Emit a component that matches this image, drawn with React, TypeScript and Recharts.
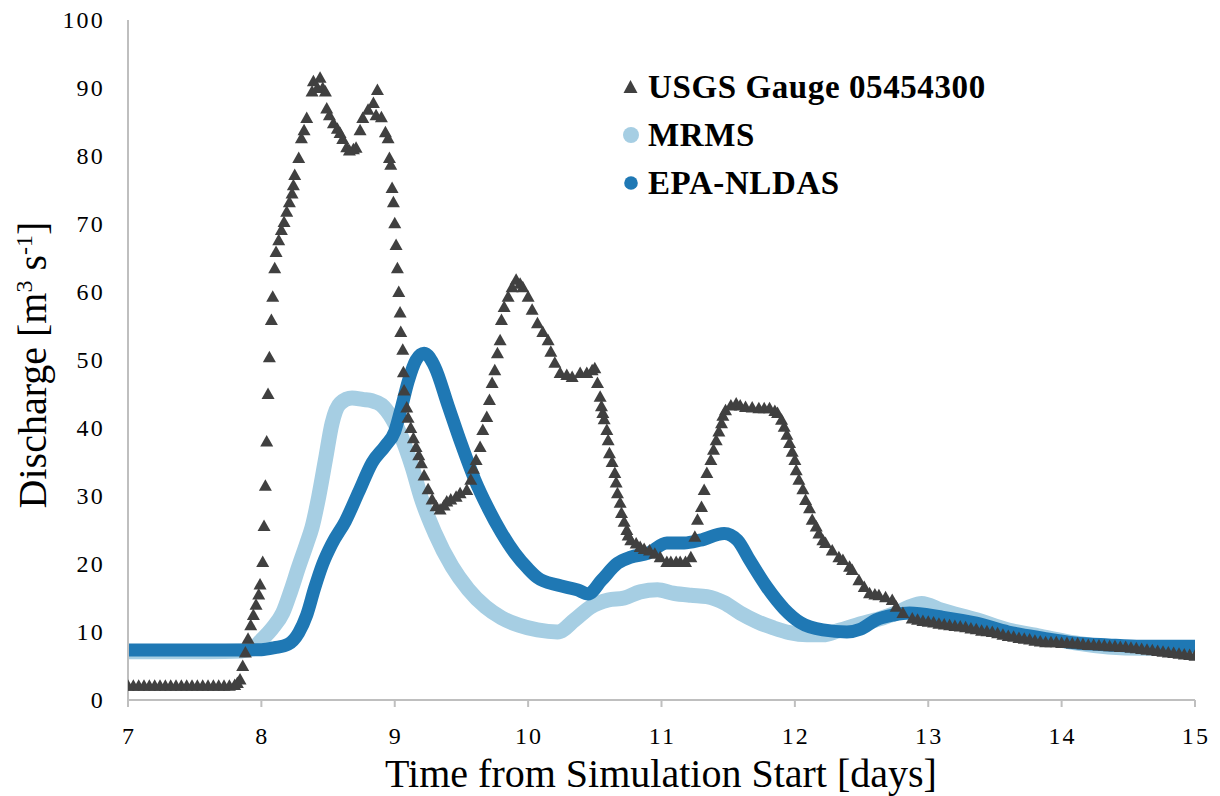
import { ComposedChart, Scatter, Line, XAxis, YAxis, Label } from 'recharts'

const GAUGE_COLOR = '#404040'
const MRMS_COLOR = '#A6CEE3'
const EPA_COLOR = '#1F78B4'
const AXIS_COLOR = '#BFBFBF'
const FONT = '"Liberation Serif", "Times New Roman", serif'

const xTicks = [7, 8, 9, 10, 11, 12, 13, 14, 15]
const yTicks = [0, 10, 20, 30, 40, 50, 60, 70, 80, 90, 100]

const seriesNames = ['USGS Gauge 05454300', 'MRMS', 'EPA-NLDAS']

// observed gauge discharge [day, m3/s]
const gaugeReadings: [number, number][] = [
  [7.0, 2.1], [7.04, 2.1], [7.08, 2.1], [7.12, 2.1], [7.16, 2.1], [7.2, 2.1], [7.24, 2.1],
  [7.28, 2.1], [7.32, 2.1], [7.36, 2.1], [7.4, 2.1], [7.44, 2.1], [7.48, 2.1], [7.52, 2.1],
  [7.56, 2.1], [7.6, 2.1], [7.64, 2.1], [7.68, 2.1], [7.72, 2.1], [7.76, 2.1], [7.8, 2.2],
  [7.82, 2.5], [7.84, 3], [7.86, 5], [7.88, 7], [7.9, 9], [7.92, 11], [7.94, 12.5],
  [7.96, 14], [7.98, 15.5], [7.99, 17], [8.01, 20.3], [8.02, 25.6], [8.03, 31.5], [8.04, 38],
  [8.05, 45], [8.06, 50.4], [8.075, 55.9], [8.085, 59.3], [8.1, 63.5], [8.11, 65.9],
  [8.13, 67.6], [8.15, 69.1], [8.17, 70.3], [8.19, 71.8], [8.21, 73.2], [8.23, 74.5],
  [8.24, 75.7], [8.25, 77.2], [8.28, 79.7], [8.3, 82.6], [8.32, 83.8], [8.34, 85.6],
  [8.38, 89.5], [8.39, 91], [8.42, 90], [8.44, 91.5], [8.46, 90], [8.48, 89.5], [8.49, 87],
  [8.51, 86], [8.54, 84.8], [8.57, 84], [8.59, 83.4], [8.61, 82.5], [8.64, 81.3],
  [8.66, 80.8], [8.69, 81], [8.71, 81.2], [8.74, 83.8], [8.76, 85.6], [8.8, 86.8],
  [8.84, 87.8], [8.86, 86], [8.87, 89.7], [8.9, 85.7], [8.93, 83.5], [8.95, 82.6],
  [8.96, 79.7], [8.97, 78.7], [8.98, 75.3], [8.99, 73.2], [9.0, 70.1], [9.01, 66.9],
  [9.02, 63.5], [9.03, 60], [9.04, 57], [9.045, 54.1], [9.06, 51.5], [9.065, 48.2],
  [9.07, 45.5], [9.09, 43], [9.1, 41.5], [9.12, 40], [9.14, 38.5], [9.16, 37.2],
  [9.18, 36], [9.2, 34.8], [9.22, 33], [9.25, 31], [9.28, 29.5], [9.31, 28.5], [9.34, 28],
  [9.37, 28.6], [9.39, 29.2], [9.42, 29.5], [9.46, 29.9], [9.49, 30.4], [9.54, 30.9],
  [9.57, 32.4], [9.59, 34], [9.61, 35.3], [9.64, 37.2], [9.66, 39.7], [9.69, 41.6],
  [9.71, 44.1], [9.73, 46.6], [9.75, 48.5], [9.77, 51], [9.79, 52.9], [9.8, 55.9],
  [9.82, 57.8], [9.85, 59.3], [9.88, 60.7], [9.91, 61.8], [9.94, 61.2], [9.96, 60.7],
  [10.0, 59.3], [10.03, 57.4], [10.07, 55.4], [10.11, 54.1], [10.15, 52.9], [10.17, 51.2],
  [10.2, 49.6], [10.24, 48.1], [10.29, 47.8], [10.33, 47.5], [10.39, 48.1], [10.44, 48.1],
  [10.48, 48.5], [10.5, 48.8], [10.52, 46.6], [10.54, 44.6], [10.55, 43.2], [10.56, 42.2],
  [10.57, 41.3], [10.59, 39.7], [10.6, 38.2], [10.61, 36.3], [10.63, 35], [10.65, 33.4],
  [10.66, 32], [10.67, 30.4], [10.69, 29], [10.7, 27.5], [10.72, 26.2], [10.74, 25],
  [10.75, 24.2], [10.77, 23.5], [10.81, 23], [10.84, 22.5], [10.87, 22.2], [10.91, 22],
  [10.95, 21.5], [10.99, 21], [11.04, 20.3], [11.07, 20.3], [11.11, 20.3], [11.14, 20.3],
  [11.18, 20.3], [11.22, 21], [11.25, 24], [11.27, 26.5], [11.3, 28.4], [11.32, 30.9],
  [11.34, 33.4], [11.37, 35.3], [11.39, 36.8], [11.41, 38.2], [11.43, 39.5], [11.45, 40.7],
  [11.46, 41.8], [11.48, 42.6], [11.52, 43.3], [11.56, 43.6], [11.59, 43.3], [11.63, 43.1],
  [11.68, 43], [11.73, 42.9], [11.77, 42.9], [11.81, 42.9], [11.85, 42.5], [11.87, 42.2],
  [11.9, 41.2], [11.92, 40.2], [11.94, 39], [11.96, 37.8], [11.98, 36.5], [12.0, 35.3],
  [12.01, 33.8], [12.03, 32.4], [12.06, 31], [12.08, 29.4], [12.11, 28.2], [12.13, 26.5],
  [12.16, 25.5], [12.18, 24.5], [12.21, 23.5], [12.23, 23.1], [12.28, 22], [12.33, 21],
  [12.36, 20.6], [12.41, 19.6], [12.43, 19.1], [12.48, 17.6], [12.52, 16.6], [12.56, 15.7],
  [12.6, 15.5], [12.63, 15.4], [12.68, 15.1], [12.73, 14.7], [12.76, 13.7], [12.81, 12.8],
  [12.88, 12], [12.92, 11.8], [12.96, 11.6], [13.0, 11.5], [13.04, 11.4], [13.08, 11.2],
  [13.12, 11.1], [13.16, 11], [13.2, 10.9], [13.24, 10.8], [13.28, 10.7], [13.32, 10.5],
  [13.36, 10.4], [13.4, 10.2], [13.44, 10.1], [13.48, 10], [13.52, 9.8], [13.56, 9.6],
  [13.6, 9.4], [13.64, 9.3], [13.68, 9.1], [13.72, 9], [13.76, 8.9], [13.8, 8.7],
  [13.84, 8.6], [13.88, 8.5], [13.92, 8.5], [13.96, 8.5], [14.0, 8.4], [14.04, 8.4],
  [14.08, 8.3], [14.12, 8.3], [14.16, 8.2], [14.2, 8.1], [14.24, 8.1], [14.28, 8],
  [14.32, 8], [14.36, 7.9], [14.4, 7.9], [14.44, 7.8], [14.48, 7.8], [14.52, 7.7],
  [14.56, 7.6], [14.6, 7.5], [14.64, 7.4], [14.68, 7.3], [14.72, 7.2], [14.76, 7.1],
  [14.8, 7], [14.84, 6.9], [14.88, 6.8], [14.92, 6.7], [14.96, 6.6], [15.0, 6.5],
]

// simulated discharge, MRMS forcing
const mrmsReadings: [number, number][] = [
  [7.0, 7.1], [7.3, 7.1], [7.6, 7.1], [7.85, 7.2], [7.95, 7.8], [8.0, 8.8], [8.08, 10.5],
  [8.16, 12.8], [8.22, 16], [8.28, 19.6], [8.34, 23], [8.38, 25.4], [8.43, 29.9],
  [8.48, 35.3], [8.53, 40.7], [8.59, 43.6], [8.68, 44.4], [8.76, 44.2], [8.83, 44],
  [8.9, 43.4], [8.98, 41.4], [9.05, 38.7], [9.13, 34.3], [9.2, 29.6], [9.3, 24.6],
  [9.43, 19.6], [9.55, 16.3], [9.68, 13.7], [9.8, 12.1], [9.93, 11], [10.07, 10.3],
  [10.22, 10], [10.35, 11.8], [10.47, 13.7], [10.6, 14.7], [10.72, 15], [10.84, 15.9],
  [10.97, 16.2], [11.09, 15.7], [11.22, 15.4], [11.34, 15.2], [11.47, 14.3], [11.59, 12.8],
  [11.72, 11.5], [11.84, 10.6], [11.96, 9.9], [12.09, 9.6], [12.21, 9.6], [12.34, 10.3],
  [12.46, 11], [12.61, 11.8], [12.76, 12.8], [12.86, 13.7], [12.95, 14.2], [13.1, 13.2],
  [13.36, 11.8], [13.6, 10.3], [13.86, 9.3], [14.1, 8.4], [14.35, 7.8], [14.6, 7.6],
  [15.0, 7.6],
]

// simulated discharge, EPA-NLDAS forcing
const epaReadings: [number, number][] = [
  [7.0, 7.35], [7.4, 7.35], [7.8, 7.35], [8.0, 7.4], [8.1, 7.7], [8.2, 8.2], [8.28, 9.9],
  [8.34, 12.5], [8.4, 16.5], [8.46, 20], [8.53, 23], [8.63, 26.3], [8.73, 30.6],
  [8.83, 34.9], [8.93, 37.4], [9.0, 39.5], [9.05, 43], [9.1, 46.8], [9.16, 50],
  [9.22, 51], [9.3, 49], [9.4, 43.3], [9.5, 37.6], [9.6, 32.4], [9.7, 28.2], [9.8, 24.6],
  [9.9, 21.6], [10.0, 19.3], [10.07, 18], [10.22, 16.9], [10.37, 16.2], [10.45, 15.6],
  [10.55, 17.6], [10.67, 20.1], [10.77, 21], [10.9, 21.6], [11.04, 23.1], [11.17, 23.1],
  [11.29, 23.5], [11.47, 24.5], [11.57, 23.5], [11.66, 20.6], [11.79, 16.6], [11.92, 13.4],
  [12.04, 11.4], [12.21, 10.3], [12.39, 10], [12.49, 10.4], [12.61, 11.8], [12.74, 12.5],
  [12.86, 12.8], [13.1, 12.2], [13.36, 11.3], [13.6, 10], [13.86, 9.1], [14.1, 8.4],
  [14.35, 8.1], [14.6, 7.9], [15.0, 7.9],
]

const gaugeData = gaugeReadings.map(([t, q]) => ({ t, q }))
const mrmsData = mrmsReadings.map(([t, q]) => ({ t, q }))
const epaData = epaReadings.map(([t, q]) => ({ t, q }))

function Triangle(props: any) {
  const { cx, cy } = props
  if (cx == null || cy == null) return null
  return (
    <polygon
      points={`${cx},${cy - 6.5} ${cx + 6.5},${cy + 5} ${cx - 6.5},${cy + 5}`}
      fill={GAUGE_COLOR}
    />
  )
}

// axis line sits at y=700, labels baseline ~744
const renderXTick = (props: any) => (
  <text
    key={`xt-${props.payload.value}`}
    x={props.x + 1}
    y={744}
    textAnchor="middle"
    fontFamily={FONT}
    fontSize={24}
    letterSpacing={2.2}
    fill="#000"
  >
    {props.payload.value}
  </text>
)

const renderYTick = (props: any) => (
  <text
    key={`yt-${props.payload.value}`}
    x={105}
    y={props.y + 8}
    textAnchor="end"
    fontFamily={FONT}
    fontSize={24}
    letterSpacing={2.2}
    fill="#000"
  >
    {props.payload.value}
  </text>
)

function YTitle() {
  return (
    <text
      x={46}
      y={365}
      transform="rotate(-90 46 365)"
      textAnchor="middle"
      fontFamily={FONT}
      fontSize={40}
      fill="#000"
    >
      Discharge [m<tspan fontSize={24} dy={-14}>3</tspan>
      <tspan dy={14}> s</tspan>
      <tspan fontSize={24} dy={-14}>-1</tspan>
      <tspan dy={14}>]</tspan>
    </text>
  )
}

function LegendBox() {
  const rows = [87, 135, 183]
  return (
    <svg width={420} height={220} style={{ position: 'absolute', left: 600, top: 0 }}>
      <polygon points="30.5,80 37.5,93 23.5,93" fill={GAUGE_COLOR} />
      <circle cx={31} cy={rows[1]} r={8} fill={MRMS_COLOR} />
      <circle cx={31} cy={rows[2]} r={6.8} fill={EPA_COLOR} />
      {seriesNames.map((name, i) => (
        <text
          key={name}
          x={48}
          y={rows[i] + 11}
          fontFamily={FONT}
          fontWeight="bold"
          fontSize={33}
          letterSpacing={0.6}
          fill="#000"
        >
          {name}
        </text>
      ))}
    </svg>
  )
}

export default function App() {
  return (
    <div style={{ position: 'relative', width: 1220, height: 796, background: '#fff' }}>
      <style>{'body{margin:0}'}</style>
      <ComposedChart width={1220} height={796} margin={{ top: 20, right: 25, bottom: 30, left: 0 }}>
        <XAxis
          type="number"
          dataKey="t"
          domain={[7, 15]}
          ticks={xTicks}
          allowDataOverflow
          height={66}
          stroke={AXIS_COLOR}
          strokeWidth={2}
          tickSize={7}
          tickLine={{ stroke: AXIS_COLOR, strokeWidth: 2 }}
          tick={renderXTick}
        >
          <Label
            content={() => (
              <text x={661} y={787} textAnchor="middle" fontFamily={FONT} fontSize={40} fill="#000">
                Time from Simulation Start [days]
              </text>
            )}
          />
        </XAxis>
        <YAxis
          type="number"
          dataKey="q"
          domain={[0, 100]}
          ticks={yTicks}
          width={128}
          stroke={AXIS_COLOR}
          strokeWidth={2}
          tickLine={false}
          tick={renderYTick}
        >
          <Label content={() => <YTitle />} />
        </YAxis>
        <Scatter
          data={gaugeData}
          dataKey="q"
          name={seriesNames[0]}
          shape={<Triangle />}
          isAnimationActive={false}
        />
        <Line
          data={mrmsData}
          dataKey="q"
          name={seriesNames[1]}
          type="monotone"
          stroke={MRMS_COLOR}
          strokeWidth={15}
          strokeLinecap="round"
          strokeLinejoin="round"
          dot={false}
          activeDot={false}
          isAnimationActive={false}
        />
        <Line
          data={epaData}
          dataKey="q"
          name={seriesNames[2]}
          type="monotone"
          stroke={EPA_COLOR}
          strokeWidth={13}
          strokeLinecap="round"
          strokeLinejoin="round"
          dot={false}
          activeDot={false}
          isAnimationActive={false}
        />
      </ComposedChart>
      <LegendBox />
    </div>
  )
}
